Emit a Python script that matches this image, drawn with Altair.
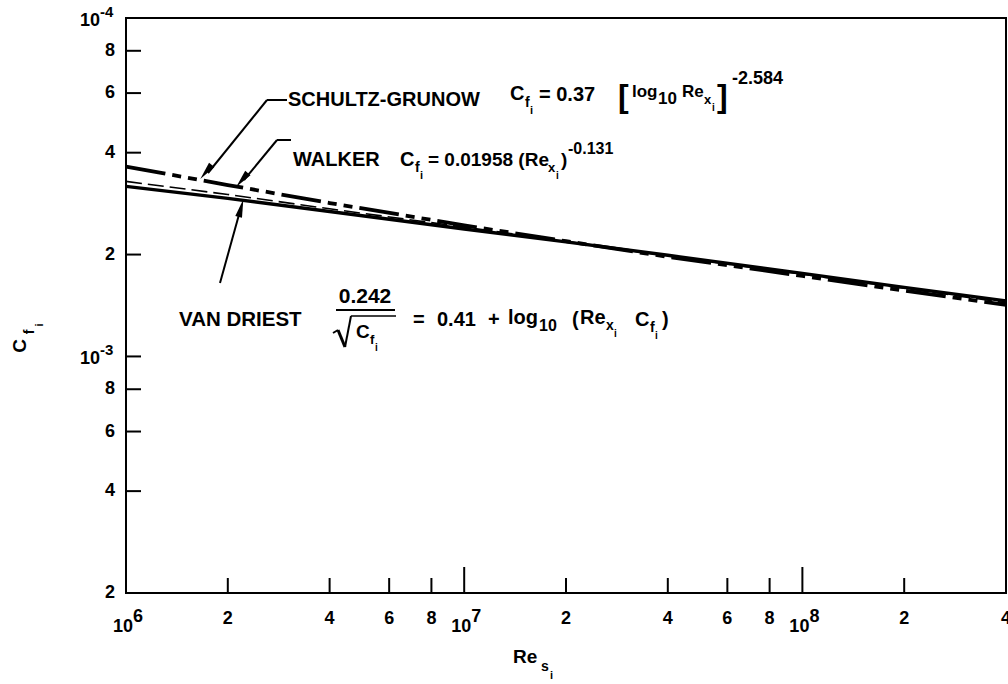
import altair as alt
import pandas as pd

# ---------------- data ----------------
re_vals = [1e6, 2e6, 4e6, 1e7, 2e7, 4e7, 1e8, 2e8, 4e8]
cf_schultz = [3.64e-3, 3.21e-3, 2.84e-3, 2.44e-3, 2.19e-3, 1.97e-3, 1.73e-3, 1.565e-3, 1.42e-3]
cf_walker = [3.18e-3, 2.93e-3, 2.68e-3, 2.38e-3, 2.18e-3, 1.99e-3, 1.76e-3, 1.60e-3, 1.46e-3]
cf_vandriest = [3.29e-3, 3.01e-3, 2.73e-3, 2.41e-3, 2.19e-3, 1.98e-3, 1.75e-3, 1.59e-3, 1.44e-3]

x_minor_ticks = [2e6, 4e6, 6e6, 8e6, 2e7, 4e7, 6e7, 8e7, 2e8]
x_major_ticks = [1e7, 1e8]
y_ticks = [4e-4, 6e-4, 8e-4, 1e-3, 2e-3, 4e-3, 6e-3, 8e-3]

x_label_vals = [2e6, 4e6, 6e6, 8e6, 2e7, 4e7, 6e7, 8e7, 2e8, 4e8]
x_label_text = ["2", "4", "6", "8", "2", "4", "6", "8", "2", "4"]
x_pow_vals = [1e6, 1e7, 1e8]
x_pow_exp = ["6", "7", "8"]

y_label_vals = [2e-4, 4e-4, 6e-4, 8e-4, 2e-3, 4e-3, 6e-3, 8e-3]
y_label_text = ["2", "4", "6", "8", "2", "4", "6", "8"]
y_pow_vals = [1e-3, 1e-2]
y_pow_exp = ["-3", "-4"]

# ---------------- layout ----------------
OX, OY = 126, 18          # plot origin on the canvas
W, H = 880, 575
FONT = "Liberation Sans"

xs = alt.Scale(type="log", domain=[1e6, 4e8], nice=False)
ys = alt.Scale(type="log", domain=[2e-4, 1e-2], nice=False)
dummy = alt.Data(values=[{"a": 1}])


def series(vals, **mk):
    df = pd.DataFrame({"re": re_vals, "cf": vals})
    return alt.Chart(df).mark_line(color="black", **mk).encode(
        x=alt.X("re:Q", scale=xs, axis=None),
        y=alt.Y("cf:Q", scale=ys, axis=None),
    )


def txt(s, x, y, size=20, align="left", angle=0, weight="bold"):
    return alt.Chart(dummy).mark_text(
        text=s, font=FONT, fontSize=size, fontWeight=weight, align=align,
        baseline="middle", angle=angle, color="black"
    ).encode(x=alt.value(x - OX), y=alt.value(y - OY))


def seg(x1, y1, x2, y2, w=2):
    return alt.Chart(dummy).mark_rule(color="black", strokeWidth=w).encode(
        x=alt.value(x1 - OX), y=alt.value(y1 - OY),
        x2=alt.value(x2 - OX), y2=alt.value(y2 - OY))


ARROW = "M0,-1L0.38,1L-0.38,1Z"


def head(x, y, ang):
    return alt.Chart(dummy).mark_point(
        shape=ARROW, filled=True, color="black", opacity=1, size=330, angle=ang
    ).encode(x=alt.value(x - OX), y=alt.value(y - OY))


layers = []

# curves
layers.append(series(cf_walker, strokeWidth=3.4))
layers.append(series(cf_vandriest, strokeWidth=1.6, strokeDash=[16, 6]))
layers.append(series(cf_schultz, strokeWidth=3.8, strokeDash=[40, 7, 9, 7, 9, 7]))

# ticks (inside the frame)
layers.append(alt.Chart(pd.DataFrame({"v": x_minor_ticks})).mark_rule(color="black", strokeWidth=2).encode(
    x=alt.X("v:Q", scale=xs, axis=None), y=alt.value(H), y2=alt.value(H - 15)))
layers.append(alt.Chart(pd.DataFrame({"v": x_major_ticks})).mark_rule(color="black", strokeWidth=2).encode(
    x=alt.X("v:Q", scale=xs, axis=None), y=alt.value(H), y2=alt.value(H - 26)))
layers.append(alt.Chart(pd.DataFrame({"v": y_ticks})).mark_rule(color="black", strokeWidth=2).encode(
    y=alt.Y("v:Q", scale=ys, axis=None), x=alt.value(0), x2=alt.value(15)))

# tick labels
lab = dict(font=FONT, fontSize=18, fontWeight="bold", color="black", baseline="middle")
layers.append(alt.Chart(pd.DataFrame({"v": x_label_vals, "t": x_label_text})).mark_text(align="center", **lab).encode(
    x=alt.X("v:Q", scale=xs, axis=None), y=alt.value(619 - OY), text="t:N"))
layers.append(alt.Chart(pd.DataFrame({"v": x_pow_vals})).mark_text(align="center", dx=-3, text="10", **lab).encode(
    x=alt.X("v:Q", scale=xs, axis=None), y=alt.value(627 - OY)))
layers.append(alt.Chart(pd.DataFrame({"v": x_pow_vals, "t": x_pow_exp})).mark_text(align="left", dx=7, **lab).encode(
    x=alt.X("v:Q", scale=xs, axis=None), y=alt.value(617 - OY), text="t:N"))

layers.append(alt.Chart(pd.DataFrame({"v": y_label_vals, "t": y_label_text})).mark_text(align="right", **lab).encode(
    y=alt.Y("v:Q", scale=ys, axis=None), x=alt.value(115 - OX), text="t:N"))
layers.append(alt.Chart(pd.DataFrame({"v": y_pow_vals})).mark_text(align="right", dy=3, text="10", **lab).encode(
    y=alt.Y("v:Q", scale=ys, axis=None), x=alt.value(100 - OX)))
layers.append(alt.Chart(pd.DataFrame({"v": y_pow_vals, "t": y_pow_exp})).mark_text(
    align="left", dy=-6, font=FONT, fontSize=15, fontWeight="bold", color="black", baseline="middle").encode(
    y=alt.Y("v:Q", scale=ys, axis=None), x=alt.value(100 - OX), text="t:N"))

# axis titles
layers += [
    txt("C", 20, 346, 19, "center", 270),
    txt("f", 30, 332, 14, "center", 270),
    txt("i", 40, 325, 11, "center", 270),
    txt("Re", 513, 657, 19),
    txt("s", 541, 667, 14),
    txt("i", 550, 676, 11),
]

# ---- Schultz-Grunow annotation ----
layers += [
    txt("SCHULTZ-GRUNOW", 288, 100, 20),
    txt("C", 510, 94, 20),
    txt("f", 525, 103, 14),
    txt("i", 530, 111, 11),
    txt("= 0.37", 539, 95, 20),
    txt("[", 618, 97, 32),
    txt("log", 632, 92, 17),
    txt("10", 658, 99, 17),
    txt("Re", 682, 92, 17),
    txt("x", 704, 100, 13),
    txt("i", 712, 108, 10),
    txt("]", 717, 97, 32),
    txt("-2.584", 732, 79, 18),
    seg(267, 100, 287, 100),
    seg(267, 100, 208, 173),
    head(206, 172, 219),
]

# ---- Walker annotation ----
layers += [
    txt("WALKER", 293, 160, 20),
    txt("C", 400, 160, 20),
    txt("f", 415, 168, 14),
    txt("i", 420, 176, 11),
    txt("= 0.01958 (Re", 428, 160, 19),
    txt("x", 548, 168, 13),
    txt("i", 556, 176, 10),
    txt(")", 561, 160, 19),
    txt("-0.131", 568, 149, 16),
    seg(277, 140, 291, 140),
    seg(277, 140, 244, 180),
    head(242, 180, 220),
]

# ---- Van Driest annotation ----
layers += [
    txt("VAN DRIEST", 179, 320, 20.5),
    txt("0.242", 365, 297, 21, "center"),
    seg(336, 310, 395, 310),
    # radical sign
    seg(333, 333, 338, 330, 2),
    seg(338, 330, 345, 347, 3),
    seg(345, 347, 351, 316, 2),
    seg(351, 316, 396, 316, 1.6),
    txt("C", 356, 332, 19),
    txt("f", 370, 340, 13),
    txt("i", 375, 348, 10),
    txt("=", 413, 320, 20),
    txt("0.41", 437, 320, 20),
    txt("+", 488, 320, 20),
    txt("log", 508, 318, 20),
    txt("10", 539, 326, 16),
    txt("(", 572, 320, 20),
    txt("Re", 580, 318, 20),
    txt("x", 606, 326, 14),
    txt("i", 614, 334, 10),
    txt("C", 635, 320, 20),
    txt("f", 650, 328, 14),
    txt("i", 655, 336, 10),
    txt(")", 662, 320, 20),
    seg(220, 283, 240, 211),
    head(241, 208, 15),
]

chart = alt.layer(*layers).properties(
    width=W, height=H,
    padding={"left": OX, "top": OY, "right": 1008 - OX - W, "bottom": 684 - OY - H},
    autosize="none", background="white",
).configure_view(stroke="black", strokeWidth=2)

chart.save("out.html", embed_options={"renderer": "svg", "actions": False})
